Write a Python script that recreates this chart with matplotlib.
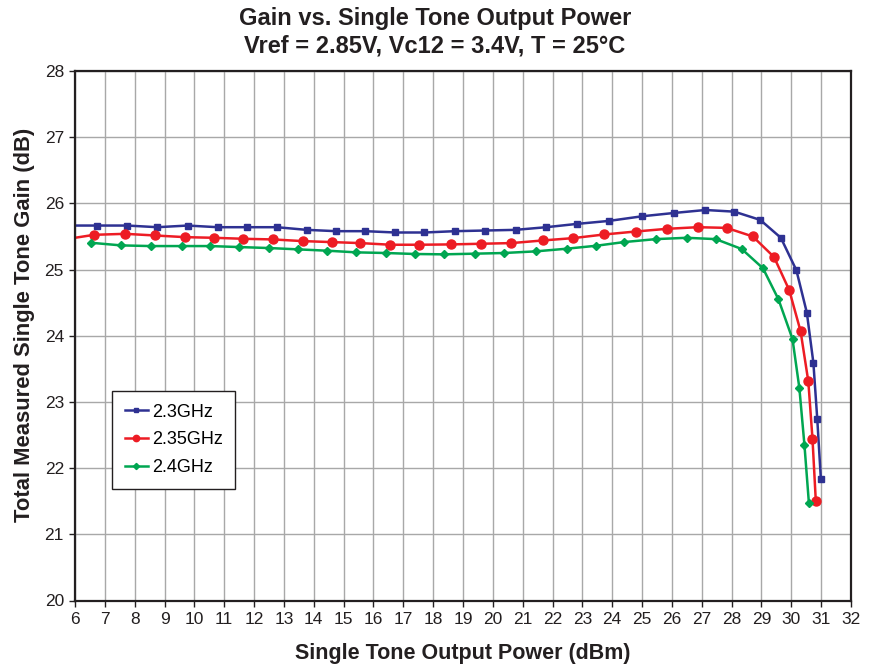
import matplotlib
matplotlib.use("Agg")
import matplotlib.pyplot as plt

plt.rcParams['font.family'] = ['Liberation Sans', 'DejaVu Sans']

# Data
x_23 = [5.75, 6.75, 7.75, 8.76, 9.77, 10.78, 11.75, 12.76, 13.76, 14.75, 15.72, 16.73, 17.71, 18.73,
        19.75, 20.76, 21.79, 22.82, 23.89, 25.0, 26.07, 27.12, 28.09, 28.96, 29.65, 30.17,
        30.52, 30.74, 30.87, 30.99]
g_23 = [25.665, 25.665, 25.665, 25.64, 25.665, 25.64, 25.64, 25.64, 25.60, 25.58, 25.58, 25.56, 25.56, 25.58,
        25.59, 25.60, 25.64, 25.69, 25.735, 25.805, 25.855, 25.90, 25.875, 25.75, 25.48, 24.99,
        24.35, 23.59, 22.74, 21.84]

x_235 = [5.64, 6.64, 7.68, 8.68, 9.68, 10.65, 11.64, 12.64, 13.63, 14.6, 15.56, 16.57, 17.54, 18.6,
         19.61, 20.62, 21.68, 22.69, 23.73, 24.79, 25.82, 26.86, 27.83, 28.71, 29.42, 29.93,
         30.31, 30.57, 30.71, 30.82]
g_235 = [25.455, 25.525, 25.54, 25.515, 25.49, 25.48, 25.465, 25.455, 25.43, 25.415, 25.40, 25.375, 25.375, 25.38,
         25.39, 25.40, 25.44, 25.475, 25.53, 25.575, 25.615, 25.64, 25.63, 25.50, 25.19, 24.69,
         24.07, 23.31, 22.44, 21.51]

x_24 = [6.53, 7.55, 8.54, 9.57, 10.53, 11.5, 12.51, 13.48, 14.45, 15.42, 16.43, 17.4, 18.36,
        19.39, 20.36, 21.44, 22.47, 23.47, 24.39, 25.46, 26.49, 27.47, 28.34, 29.05, 29.57,
        30.04, 30.27, 30.44, 30.59]
g_24 = [25.405, 25.365, 25.355, 25.355, 25.355, 25.34, 25.325, 25.305, 25.285, 25.26, 25.25, 25.235, 25.23,
        25.24, 25.25, 25.275, 25.315, 25.36, 25.415, 25.46, 25.48, 25.46, 25.31, 25.02, 24.55,
        23.95, 23.21, 22.35, 21.47]

labels = ["2.3GHz", "2.35GHz", "2.4GHz"]
x_ticks = list(range(6, 33))
y_ticks = list(range(20, 29))

fig = plt.figure(figsize=(8.7, 6.68), dpi=100)
ax = fig.add_axes([75 / 870, 1 - 600.5 / 668, (851 - 75) / 870, (600.5 - 71) / 668])

ax.plot(x_23, g_23, color="#2e3192", lw=1.8, marker="s", ms=5, label=labels[0])
ax.plot(x_235, g_235, color="#ed1c24", lw=1.8, marker="o", ms=6.5, label=labels[1])
ax.plot(x_24, g_24, color="#00a651", lw=1.8, marker="D", ms=4.5, label=labels[2])

ax.set_xlim(6, 32)
ax.set_ylim(20, 28)
ax.set_xticks(x_ticks)
ax.set_yticks(y_ticks)
ax.grid(True, color="#a8a8a8", lw=1.0)
ax.set_axisbelow(True)
for s in ax.spines.values():
    s.set_color("#231f20")
    s.set_linewidth(1.6)
ax.tick_params(axis="both", direction="out", length=4, width=1, colors="#231f20",
               labelsize=12.5, pad=4)
for lab in ax.get_xticklabels() + ax.get_yticklabels():
    lab.set_color("#231f20")

ax.set_xlabel("Single Tone Output Power (dBm)", fontsize=15.5, fontweight="bold",
              color="#231f20", labelpad=12)
ax.set_ylabel("Total Measured Single Tone Gain (dB)", fontsize=15.8, fontweight="bold",
              color="#231f20", labelpad=7, y=0.52)

fig.text(0.5, 1 - 18 / 668, "Gain vs. Single Tone Output Power", ha="center", va="center",
         fontsize=17, fontweight="bold", color="#231f20")
fig.text(0.5, 1 - 46 / 668, "Vref = 2.85V, Vc12 = 3.4V, T = 25\u00b0C", ha="center", va="center",
         fontsize=17, fontweight="bold", color="#231f20")

leg = ax.legend(loc="upper left", bbox_to_anchor=(0.0477, 0.3957), borderaxespad=0,
                fontsize=13, frameon=True, fancybox=False, edgecolor="#231f20", framealpha=1,
                handlelength=1.3, handletextpad=0.2, borderpad=0.7, labelspacing=0.6,
                markerscale=0.7)
leg.get_frame().set_linewidth(1.0)

fig.savefig("out.png", dpi=100)
